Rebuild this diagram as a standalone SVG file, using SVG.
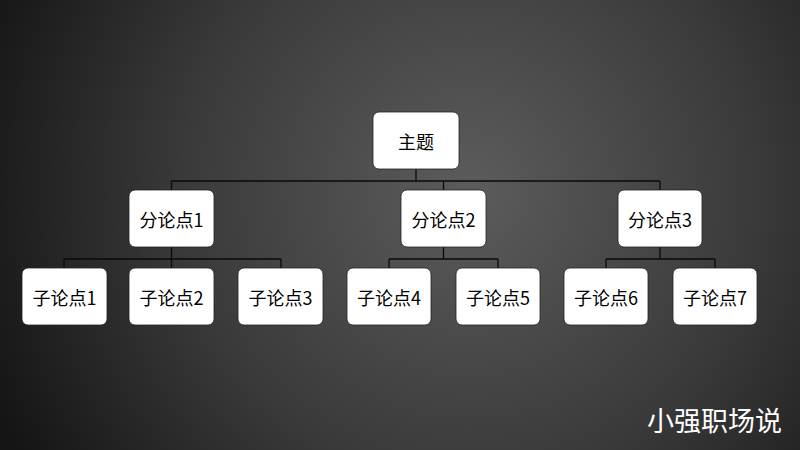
<svg xmlns="http://www.w3.org/2000/svg" width="800" height="450" viewBox="0 0 800 450">
  <defs>
    <radialGradient id="bg" cx="470" cy="190" r="520" gradientUnits="userSpaceOnUse">
      <stop offset="0" stop-color="#5c5c5c"/>
      <stop offset="0.55" stop-color="#3a3a3a"/>
      <stop offset="1" stop-color="#151515"/>
    </radialGradient>
  </defs>
  <style>
    .node rect { fill: #ffffff; stroke: #222; stroke-width: 0.8; }
    .node text { font-family: "Noto Sans CJK SC", "Liberation Sans", sans-serif; font-size: 18px; fill: #000; text-anchor: middle; dominant-baseline: central; }
    .conn { fill: none; stroke: #0a0a0a; stroke-width: 1.3; }
    .wm { font-family: "Noto Sans CJK SC", sans-serif; font-size: 27px; fill: #ffffff; }
  </style>
  <rect x="0" y="0" width="800" height="450" fill="url(#bg)"/>

  <g id="connectors">
    <path class="conn" d="M416,169 V181 M171.5,181 H660 M171.5,181 V190 M443.5,181 V190 M660,181 V190"/>
    <path class="conn" d="M171.5,247 V268 M64,259 H281 M64,259 V268 M281,259 V268"/>
    <path class="conn" d="M443.5,247 V259 M389,259 H498 M389,259 V268 M498,259 V268"/>
    <path class="conn" d="M660,247 V259 M606,259 H715 M606,259 V268 M715,259 V268"/>
  </g>

  <g id="root" class="node"><rect x="373" y="112" width="86" height="57" rx="6"/><text x="416" y="140.5">主题</text></g>

  <g id="b1" class="node"><rect x="129" y="190" width="85" height="57" rx="6"/><text x="171.5" y="218.5">分论点1</text></g>
  <g id="b2" class="node"><rect x="401" y="190" width="85" height="57" rx="6"/><text x="443.5" y="218.5">分论点2</text></g>
  <g id="b3" class="node"><rect x="618" y="190" width="84" height="57" rx="6"/><text x="660" y="218.5">分论点3</text></g>

  <g id="c1" class="node"><rect x="22" y="268" width="85" height="57" rx="6"/><text x="64.5" y="296.5">子论点1</text></g>
  <g id="c2" class="node"><rect x="129" y="268" width="85" height="57" rx="6"/><text x="171.5" y="296.5">子论点2</text></g>
  <g id="c3" class="node"><rect x="238" y="268" width="85" height="57" rx="6"/><text x="280.5" y="296.5">子论点3</text></g>
  <g id="c4" class="node"><rect x="347" y="268" width="84" height="57" rx="6"/><text x="389" y="296.5">子论点4</text></g>
  <g id="c5" class="node"><rect x="456" y="268" width="84" height="57" rx="6"/><text x="498" y="296.5">子论点5</text></g>
  <g id="c6" class="node"><rect x="564" y="268" width="84" height="57" rx="6"/><text x="606" y="296.5">子论点6</text></g>
  <g id="c7" class="node"><rect x="673" y="268" width="84" height="57" rx="6"/><text x="715" y="296.5">子论点7</text></g>

  <text class="wm" x="647" y="431">小强职场说</text>
</svg>
